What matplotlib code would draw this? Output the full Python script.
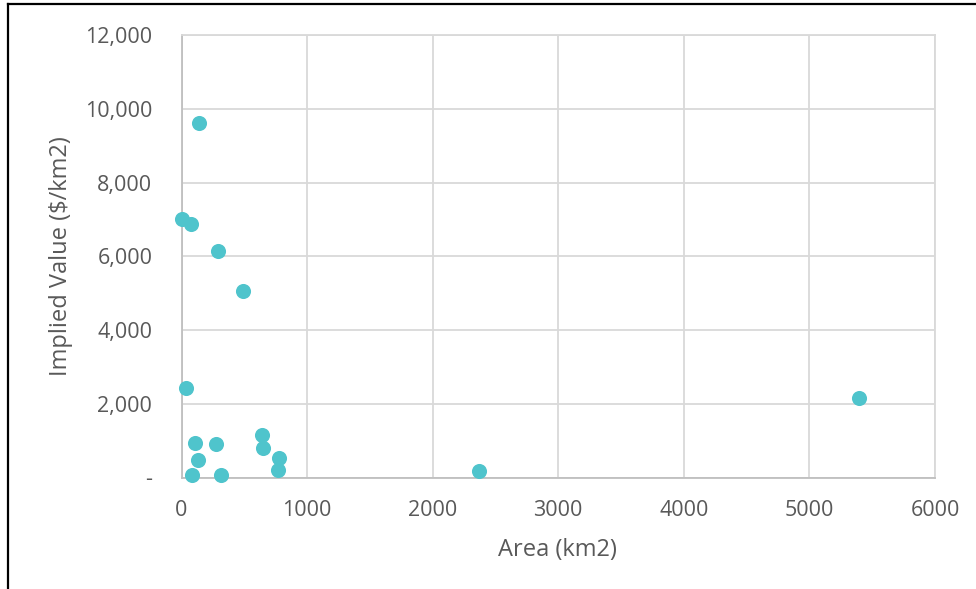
import matplotlib
matplotlib.use("Agg")
import matplotlib.pyplot as plt
from matplotlib.ticker import FuncFormatter
from matplotlib.lines import Line2D

# Area (km2) and implied value ($/km2) per parcel
area_km2 = [139, 0, 73, 288, 490, 36, 5395, 107, 277, 638, 649, 779, 766, 134, 81, 315, 2367]
implied_value = [9610, 7010, 6870, 6140, 5060, 2420, 2160, 945, 917, 1145, 800, 530, 195, 466, 68, 60, 184]

x_ticks = [0, 1000, 2000, 3000, 4000, 5000, 6000]
y_ticks = [0, 2000, 4000, 6000, 8000, 10000, 12000]

plt.rcParams['font.family'] = ['Open Sans', 'DejaVu Sans']
text_color = '#595959'
grid_color = '#d9d9d9'
axis_color = '#bfbfbf'
point_color = '#4fc4cc'

fig = plt.figure(figsize=(9.76, 5.89), dpi=100)
ax = fig.add_axes([181.5 / 976, 1 - 477.5 / 589, (935 - 181.5) / 976, (477.5 - 35) / 589])

ax.scatter(area_km2, implied_value, s=118, color=point_color, linewidths=0, zorder=3, clip_on=False)

ax.set_xlim(0, 6000)
ax.set_ylim(0, 12000)
ax.set_xticks(x_ticks)
ax.set_yticks(y_ticks)


def acct(v, pos):
    return '-' if v == 0 else f'{int(v):,}'


ax.yaxis.set_major_formatter(FuncFormatter(acct))
ax.grid(True, color=grid_color, linewidth=1.3, zorder=0)
ax.set_axisbelow(True)
for side in ('top', 'right'):
    ax.spines[side].set_color(grid_color)
    ax.spines[side].set_linewidth(1.3)
for side in ('left', 'bottom'):
    ax.spines[side].set_color(axis_color)
    ax.spines[side].set_linewidth(1.3)

ax.tick_params(axis='both', length=0, labelsize=15.5, labelcolor=text_color)
ax.tick_params(axis='y', pad=21)
ax.tick_params(axis='x', pad=16)

fig.text(557.5 / 976, 1 - 550 / 589, 'Area (km2)', ha='center', va='center',
         fontsize=17, color=text_color)
fig.text(61 / 976, 1 - 256 / 589, 'Implied Value ($/km2)', ha='center', va='center',
         rotation=90, fontsize=17, color=text_color)

# outer frame (left and top edges)
fig.add_artist(Line2D([8 / 976, 8 / 976], [0, 1 - 4 / 589], transform=fig.transFigure,
                      color='black', linewidth=1.6))
fig.add_artist(Line2D([8 / 976, 1], [1 - 4 / 589, 1 - 4 / 589], transform=fig.transFigure,
                      color='black', linewidth=1.6))

fig.savefig('out.png', dpi=100)
